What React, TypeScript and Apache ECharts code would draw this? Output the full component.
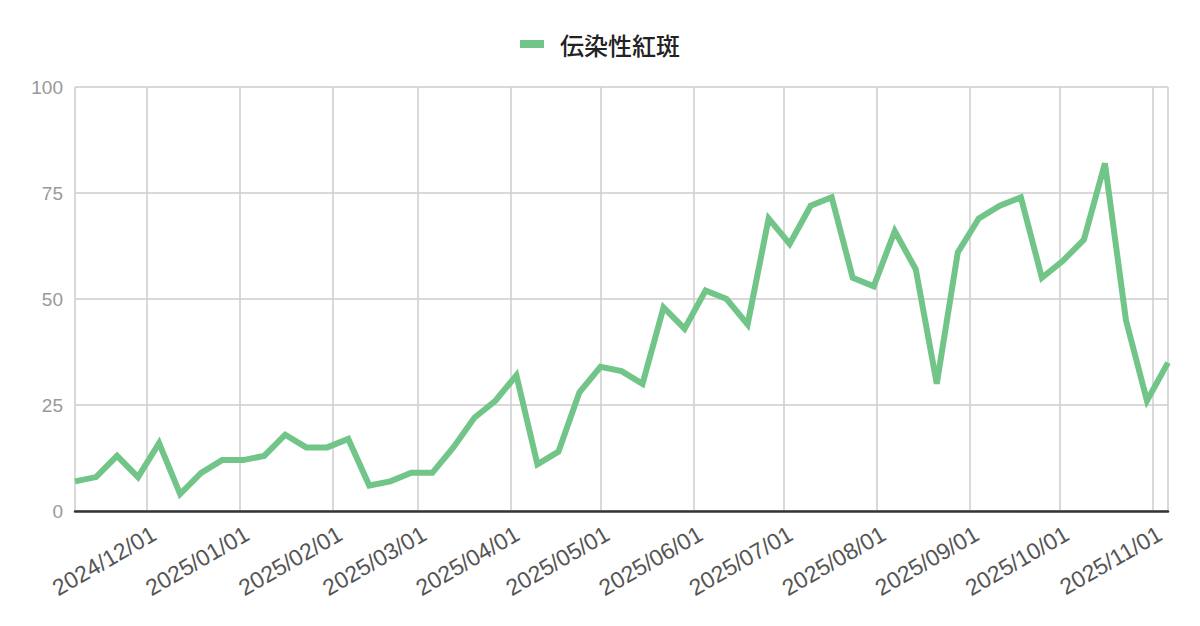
import { useRef, useEffect } from 'react'
import * as echarts from 'echarts'

// 週ごとの報告日
const weeks = [
  '2024-11-07', '2024-11-14', '2024-11-21', '2024-11-28',
  '2024-12-05', '2024-12-12', '2024-12-19', '2024-12-26',
  '2025-01-02', '2025-01-09', '2025-01-16', '2025-01-23', '2025-01-30',
  '2025-02-06', '2025-02-13', '2025-02-20', '2025-02-27',
  '2025-03-06', '2025-03-13', '2025-03-20', '2025-03-27',
  '2025-04-03', '2025-04-10', '2025-04-17', '2025-04-24',
  '2025-05-01', '2025-05-08', '2025-05-15', '2025-05-22', '2025-05-29',
  '2025-06-05', '2025-06-12', '2025-06-19', '2025-06-26',
  '2025-07-03', '2025-07-10', '2025-07-17', '2025-07-24', '2025-07-31',
  '2025-08-07', '2025-08-14', '2025-08-21', '2025-08-28',
  '2025-09-04', '2025-09-11', '2025-09-18', '2025-09-25',
  '2025-10-02', '2025-10-09', '2025-10-16', '2025-10-23', '2025-10-30',
  '2025-11-06',
]

// 伝染性紅斑 報告数
const cases = [
  7, 8, 13, 8,
  16, 4, 9, 12,
  12, 13, 18, 15, 15,
  17, 6, 7, 9,
  9, 15, 22, 26,
  32, 11, 14, 28,
  34, 33, 30, 48, 43,
  52, 50, 44, 69,
  63, 72, 74, 55, 53,
  66, 57, 30, 61,
  69, 72, 74, 55,
  59, 64, 82, 45, 26,
  35,
]

const seriesName = '伝染性紅斑'
const yTicks = [0, 25, 50, 75, 100]

const pad = (n: number) => String(n).padStart(2, '0')

export default function App() {
  const chartRef = useRef<HTMLDivElement>(null)

  useEffect(() => {
    document.body.style.margin = '0'
    if (!chartRef.current) return
    const chart = echarts.init(chartRef.current, undefined, { renderer: 'svg' })

    const option: echarts.EChartsOption = {
      animation: false,
      backgroundColor: '#ffffff',
      textStyle: { fontFamily: '"Liberation Sans", Arial, sans-serif' },
      legend: {
        top: 27,
        left: 'center',
        icon: 'rect',
        itemWidth: 24,
        itemHeight: 8,
        textStyle: {
          color: '#222222',
          fontSize: 24,
          fontWeight: 500,
          fontFamily: '"Noto Sans CJK JP", sans-serif',
          padding: [0, 0, 0, 11],
        },
        data: [seriesName],
      },
      grid: { left: 75, right: 32, top: 87, bottom: 115 },
      xAxis: {
        type: 'time',
        min: 'dataMin',
        max: 'dataMax',
        splitNumber: 12,
        maxInterval: 31 * 86400000,
        minInterval: 28 * 86400000,
        axisLine: { lineStyle: { color: '#333333', width: 2.5 } },
        axisTick: { show: false },
        splitLine: { show: true, lineStyle: { color: '#cccccc', width: 1.5 } },
        axisLabel: {
          rotate: 30,
          color: '#555555',
          fontSize: 23,
          margin: 25,
          padding: [0, -8, 0, 0],
          hideOverlap: false,
          formatter: (v: number) => {
            const d = new Date(v)
            return `${d.getFullYear()}/${pad(d.getMonth() + 1)}/${pad(d.getDate())}`
          },
        },
      },
      yAxis: {
        type: 'value',
        min: yTicks[0],
        max: yTicks[yTicks.length - 1],
        interval: 25,
        axisLine: { show: false },
        axisTick: { show: false },
        splitLine: { lineStyle: { color: '#cccccc', width: 1.5 } },
        axisLabel: { color: '#999999', fontSize: 19, margin: 12 },
      },
      series: [
        {
          name: seriesName,
          type: 'line',
          data: weeks.map((w, i) => [w, cases[i]]),
          showSymbol: false,
          symbol: 'none',
          color: '#72c588',
          lineStyle: { width: 6, color: '#72c588', join: 'miter', miterLimit: 10 },
        },
      ],
    }

    chart.setOption(option)
    return () => chart.dispose()
  }, [])

  return <div ref={chartRef} style={{ width: 1200, height: 626 }} />
}
